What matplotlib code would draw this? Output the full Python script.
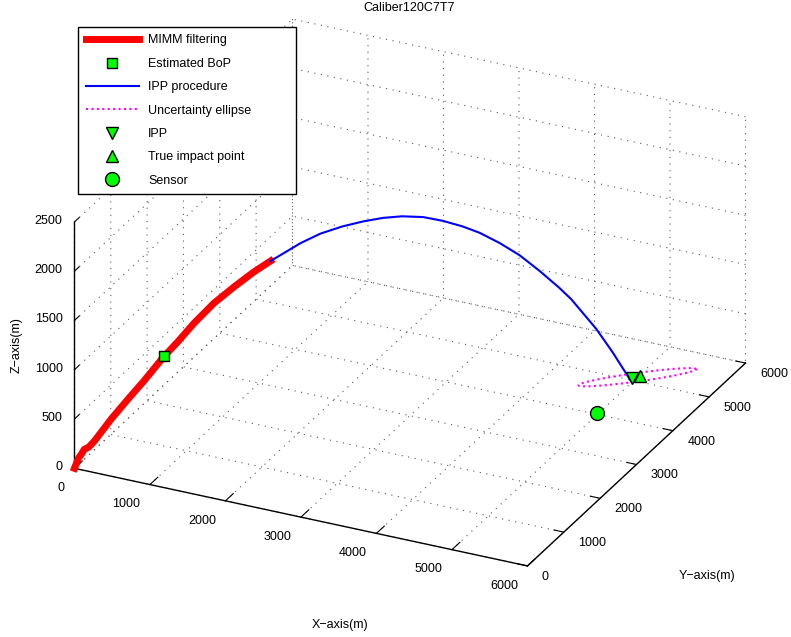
import numpy as np
import matplotlib.pyplot as plt

plt.rcParams['font.family'] = ['Liberation Sans', 'DejaVu Sans']
plt.rcParams['font.size'] = 9

# shell flies along the x = y diagonal; s is the distance along x (and y)
mimm_s = [0, 36, 62, 89, 125, 178, 329, 481, 623, 792, 926, 1068, 1246, 1424, 1602, 1754]
mimm_z = [0, 96, 132, 178, 190, 244, 442, 619, 778, 983, 1122, 1281, 1453, 1585, 1706, 1792]

ipp_s = [1754, 1843, 2021, 2199, 2395, 2582, 2760, 2929, 3116, 3294, 3472, 3623,
         3801, 3979, 4157, 4335, 4442, 4665, 4807, 4976]
ipp_z = [1792, 1836, 1925, 1990, 2028, 2046, 2050, 2036, 1995, 1925, 1836, 1745,
         1610, 1455, 1265, 1060, 925, 585, 330, 0]

bop = [805, 805, 1000]
ipp_point = [4956, 5047, 0]
true_point = [5018, 5136, 0]
sensor = [4986, 4024, 0]

# uncertainty ellipse on the ground
ell_center = [5000, 5100]
ell_semi = [735, 110]
ell_angle = 43

x_ticks = [0, 1000, 2000, 3000, 4000, 5000, 6000]
y_ticks = [0, 1000, 2000, 3000, 4000, 5000, 6000]
z_ticks = [0, 500, 1000, 1500, 2000, 2500]

fig = plt.figure(figsize=(7.91, 6.37), dpi=100)
ax = fig.add_axes([0.1158, 0.041, 0.7838, 0.9733], projection='3d',
                  proj_type='ortho', computed_zorder=False)
ax.view_init(elev=26.6, azim=-64.3)
ax.set_box_aspect((1, 1, 0.548), zoom=1.194)

for axis in (ax.xaxis, ax.yaxis, ax.zaxis):
    axis.set_pane_color((1, 1, 1, 0))
    axis._axinfo['grid'].update(color='0.35', linewidth=0.8, linestyle=(0, (1, 5)))
    axis._axinfo['tick']['inward_factor'] = 0.0
    axis.line.set_color('k')
    axis.line.set_linewidth(1.0)
ax.xaxis._axinfo['tick']['outward_factor'] = 0.45
ax.yaxis._axinfo['tick']['outward_factor'] = 0.27
ax.zaxis._axinfo['tick']['outward_factor'] = 0.27
ax.zaxis.set_ticks_position('lower')

ax.plot(mimm_s, mimm_s, mimm_z, color='#ff0000', lw=5, solid_joinstyle='round',
        clip_on=False, label='MIMM filtering')
ax.plot([bop[0]], [bop[1]], [bop[2]], 's', color='#00ff00', mec='k', ms=7,
        clip_on=False, label='Estimated BoP')
ax.plot(ipp_s, ipp_s, ipp_z, color='#0000ff', lw=1.5, clip_on=False, label='IPP procedure')

t = np.linspace(0, 2 * np.pi, 200)
phi = np.deg2rad(ell_angle)
ex = ell_center[0] + ell_semi[0] * np.cos(t) * np.cos(phi) - ell_semi[1] * np.sin(t) * np.sin(phi)
ey = ell_center[1] + ell_semi[0] * np.cos(t) * np.sin(phi) + ell_semi[1] * np.sin(t) * np.cos(phi)
ax.plot(ex, ey, np.zeros_like(t), color='#ff00ff', lw=1.5, linestyle=(0, (1, 1.6)),
        clip_on=False, label='Uncertainty ellipse')

ax.plot([ipp_point[0]], [ipp_point[1]], [ipp_point[2]], 'v', color='#00ff00', mec='k',
        ms=8, clip_on=False, label='IPP')
ax.plot([true_point[0]], [true_point[1]], [true_point[2]], '^', color='#00ff00', mec='k',
        ms=8, clip_on=False, label='True impact point')
ax.plot([sensor[0]], [sensor[1]], [sensor[2]], 'o', color='#00ff00', mec='k',
        ms=10, clip_on=False, label='Sensor')

ax.set_xlim(0, 6000)
ax.set_ylim(0, 6000)
ax.set_zlim(0, 2500)
ax.set_xticks(x_ticks)
ax.set_yticks(y_ticks)
ax.set_zticks(z_ticks)
ax.tick_params(labelsize=9)
ax.xaxis.set_tick_params(pad=2.2)
ax.yaxis.set_tick_params(pad=-0.6)
ax.zaxis.set_tick_params(pad=-3.9)
plt.setp(ax.get_xticklabels(), ha='right', va='center')
plt.setp(ax.get_yticklabels(), ha='left', va='center')
plt.setp(ax.get_zticklabels(), ha='right', va='baseline')

fig.suptitle('Caliber120C7T7', x=409 / 791, y=1 - 2 / 637, va='top', fontsize=9)
fig.text(340 / 791, 1 - 625 / 637, 'X\u2212axis(m)', ha='center', va='center')
fig.text(707 / 791, 1 - 576 / 637, 'Y\u2212axis(m)', ha='center', va='center')
fig.text(17 / 791, 1 - 345 / 637, 'Z\u2212axis(m)', ha='center', va='center', rotation=90)

leg = fig.legend(loc='upper left', bbox_to_anchor=(78 / 791, 1 - 194 / 637, 218 / 791, 167 / 637),
                 mode='expand', borderaxespad=0, fancybox=False, edgecolor='k', framealpha=1,
                 handlelength=4.25, handletextpad=0.76, labelspacing=0.91, borderpad=0.6,
                 numpoints=1, fontsize=9)
leg.get_frame().set_linewidth(1.0)

fig.savefig('out.png', dpi=100)
